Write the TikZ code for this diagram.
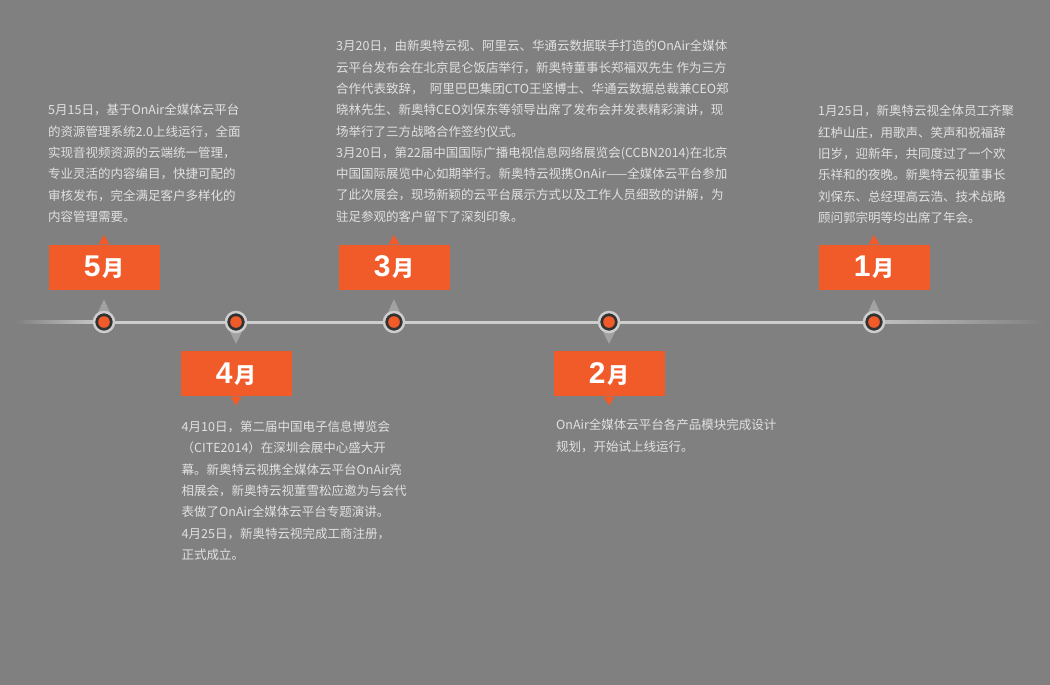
\documentclass[tikz,border=0pt]{standalone}
\usepackage{fontspec}
\setmainfont{Noto Sans CJK SC}
\newfontfamily\numfont{Liberation Sans}
\usetikzlibrary{calc,positioning}
\definecolor{bggray}{RGB}{128,128,128}
\definecolor{evorange}{RGB}{241,90,41}
\definecolor{ringgray}{RGB}{205,205,205}
\definecolor{pingray}{RGB}{162,162,162}
\definecolor{descgray}{RGB}{225,225,225}
\definecolor{dotdark}{RGB}{50,50,50}
\newcommand{\monthlabel}[1]{{\numfont\fontsize{30}{30}\selectfont\bfseries #1}\,{\fontsize{22}{22}\selectfont\bfseries 月}}

\begin{document}
\begin{tikzpicture}[x=1pt,y=-1pt,
  evdot/.style={circle,draw=ringgray,line width=2.5pt,fill=dotdark,minimum size=20pt,inner sep=0pt,
    path picture={\fill[evorange] (path picture bounding box.center) circle (5.8pt);}},
  monthbox/.style={fill=evorange,text=white,minimum width=111pt,minimum height=45pt,inner sep=0pt},
  desc/.style={text=descgray,font=\fontsize{12.5}{21.3}\selectfont,align=left,anchor=north west,inner sep=0pt}]
  \useasboundingbox (0,0) rectangle (1050,685);
  \fill[bggray] (0,0) rectangle (1050,685);

  % timeline
  \coordinate (p5) at (104,322);
  \coordinate (p4) at (236,322);
  \coordinate (p3) at (394,322);
  \coordinate (p2) at (609,322);
  \coordinate (p1) at (874,322);
  \shade[left color=bggray,right color=ringgray] (15,320.5) rectangle (104,323.5);
  \shade[left color=ringgray!85!bggray,right color=bggray] (874,320.5) rectangle (1045,323.5);
  \draw[ringgray,line width=3pt] (p5) -- (p1);

  % pins
  \foreach \p in {p5,p3,p1}
    \fill[pingray] ($(\p)+(-7.8,-6)$) -- ($(\p)+(0,-22.7)$) -- ($(\p)+(7.8,-6)$) -- cycle;
  \foreach \p in {p4,p2}
    \fill[pingray] ($(\p)+(-7.8,6)$) -- ($(\p)+(0,22)$) -- ($(\p)+(7.8,6)$) -- cycle;

  \node[evdot] (d5) at (p5) {};
  \node[evdot] (d4) at (p4) {};
  \node[evdot] (d3) at (p3) {};
  \node[evdot] (d2) at (p2) {};
  \node[evdot] (d1) at (p1) {};

  % month boxes
  \node[monthbox,above=21pt of d5] (m5) {\monthlabel{5}};
  \node[monthbox,below=18pt of d4] (m4) {\monthlabel{4}};
  \node[monthbox,above=21pt of d3] (m3) {\monthlabel{3}};
  \node[monthbox,below=18pt of d2] (m2) {\monthlabel{2}};
  \node[monthbox,above=21pt of d1] (m1) {\monthlabel{1}};
  \foreach \m in {m5,m3,m1}
    \fill[evorange] ([xshift=-5.5pt]\m.north) -- ++(5.5pt,9.5pt) -- ++(5.5pt,-9.5pt) -- cycle;
  \foreach \m in {m4,m2}
    \fill[evorange] ([xshift=-5.5pt]\m.south) -- ++(5.5pt,-9pt) -- ++(5.5pt,9pt) -- cycle;

  % texts
  \node[desc] (t5) at (48,104) {5月15日，基于OnAir全媒体云平台\\
    的资源管理系统2.0上线运行，全面\\
    实现音视频资源的云端统一管理，\\
    专业灵活的内容编目，快捷可配的\\
    审核发布，完全满足客户多样化的\\
    内容管理需要。};
  \node[desc] (t3) at (336,40) {3月20日，由新奥特云视、阿里云、华通云数据联手打造的OnAir全媒体\\
    云平台发布会在北京昆仑饭店举行，新奥特董事长郑福双先生 作为三方\\
    合作代表致辞，\enspace 阿里巴巴集团CTO王坚博士、华通云数据总裁兼CEO郑\\
    晓林先生、新奥特CEO刘保东等领导出席了发布会并发表精彩演讲，现\\
    场举行了三方战略合作签约仪式。\\
    3月20日，第22届中国国际广播电视信息网络展览会(CCBN2014)在北京\\
    中国国际展览中心如期举行。新奥特云视携OnAir——全媒体云平台参加\\
    了此次展会，现场新颖的云平台展示方式以及工作人员细致的讲解，为\\
    驻足参观的客户留下了深刻印象。};
  \node[desc] (t1) at (818,105) {1月25日，新奥特云视全体员工齐聚\\
    红栌山庄，用歌声、笑声和祝福辞\\
    旧岁，迎新年，共同度过了一个欢\\
    乐祥和的夜晚。新奥特云视董事长\\
    刘保东、总经理高云浩、技术战略\\
    顾问郭宗明等均出席了年会。};
  \node[desc] (t4) at (181.5,420.7) {4月10日，第二届中国电子信息博览会\\
    （CITE2014）在深圳会展中心盛大开\\
    幕。新奥特云视携全媒体云平台OnAir亮\\
    相展会，新奥特云视董雪松应邀为与会代\\
    表做了OnAir全媒体云平台专题演讲。\\
    4月25日，新奥特云视完成工商注册，\\
    正式成立。};
  \node[desc] (t2) at (556,419) {OnAir全媒体云平台各产品模块完成设计\\
    规划，开始试上线运行。};
\end{tikzpicture}
\end{document}
